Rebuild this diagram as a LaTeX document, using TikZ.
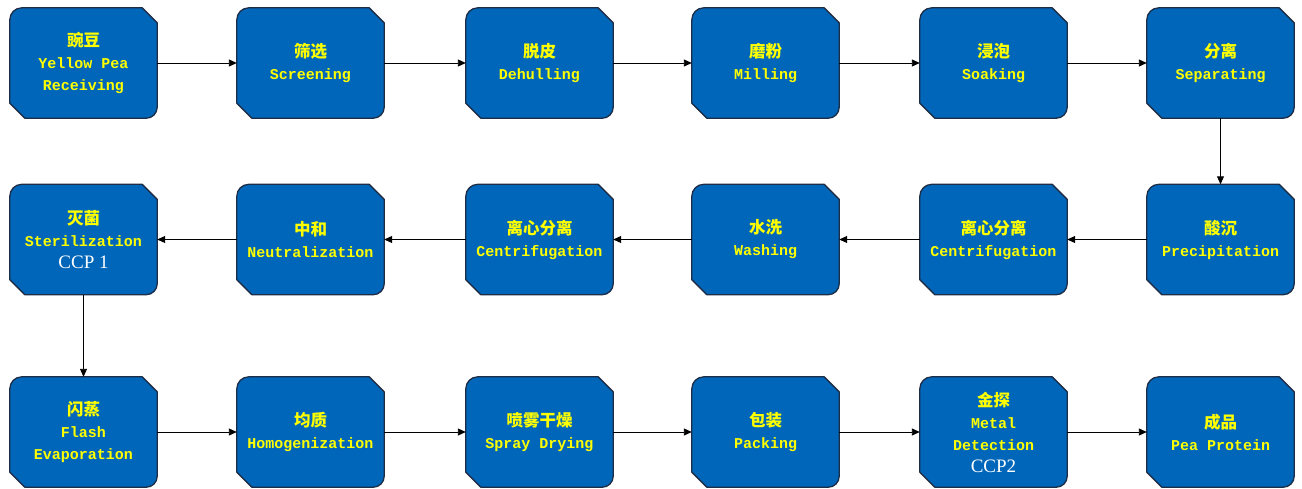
\documentclass[tikz,border=0pt]{standalone}
\usepackage{fontspec}
\setmainfont{Liberation Serif}
\newfontfamily\cjk{Noto Sans CJK SC}
\newfontfamily\mono{Liberation Mono}
\usetikzlibrary{arrows.meta}
\pgfdeclarelayer{background}
\pgfsetlayers{background,main}
\definecolor{boxfill}{RGB}{0,102,186}
\definecolor{boxline}{RGB}{30,45,70}
\definecolor{txtyellow}{RGB}{255,255,0}
\newcommand{\zh}[1]{{\cjk\bfseries\fontsize{16.5}{22}\selectfont #1}}
\newcommand{\ccp}[1]{{\rmfamily\mdseries\color{white}\fontsize{19}{23}\selectfont #1}}
\tikzset{
  proc/.style={rectangle, minimum width=147pt, minimum height=110pt, inner sep=0pt,
    align=center, text=txtyellow, font=\mono\bfseries\fontsize{15}{22}\selectfont},
  flow/.style={draw=black, line width=0.9pt, -{Triangle[length=8pt,width=7pt]}}
}
\begin{document}
\begin{tikzpicture}[x=1pt,y=1pt]
\useasboundingbox (0,0) rectangle (1302,-488);
% row 1
\node[proc] (a1) at (83.5,-63) {\zh{豌豆}\\Yellow Pea\\Receiving};
\node[proc] (a2) at (310.5,-63) {\zh{筛选}\\Screening};
\node[proc] (a3) at (539.5,-63) {\zh{脱皮}\\Dehulling};
\node[proc] (a4) at (765.5,-63) {\zh{磨粉}\\Milling};
\node[proc] (a5) at (993.5,-63) {\zh{浸泡}\\Soaking};
\node[proc] (a6) at (1220.5,-63) {\zh{分离}\\Separating};
% row 2
\node[proc] (b6) at (1220.5,-239.5) {\zh{酸沉}\\Precipitation};
\node[proc] (b5) at (993.5,-239.5) {\zh{离心分离}\\Centrifugation};
\node[proc] (b4) at (765.5,-239.5) {\zh{水洗}\\Washing};
\node[proc] (b3) at (539.5,-239.5) {\zh{离心分离}\\Centrifugation};
\node[proc] (b2) at (310.5,-239.5) {\zh{中和}\\Neutralization};
\node[proc] (b1) at (83.5,-239.5) {\zh{灭菌}\\Sterilization\\\ccp{CCP 1}};
% row 3
\node[proc] (c1) at (83.5,-432) {\zh{闪蒸}\\Flash\\Evaporation};
\node[proc] (c2) at (310.5,-432) {\zh{均质}\\Homogenization};
\node[proc] (c3) at (539.5,-432) {\zh{喷雾干燥}\\Spray Drying};
\node[proc] (c4) at (765.5,-432) {\zh{包装}\\Packing};
\node[proc] (c5) at (993.5,-432) {\zh{金探}\\Metal\\Detection\\\ccp{CCP2}};
\node[proc] (c6) at (1220.5,-432) {\zh{成品}\\Pea Protein};
% shapes
\begin{pgfonlayer}{background}
\foreach \n in {a1,a2,a3,a4,a5,a6,b1,b2,b3,b4,b5,b6,c1,c2,c3,c4,c5,c6}{
  \filldraw[fill=boxfill, draw=boxline, line width=1.3pt, line join=round]
    ([yshift=-12pt]\n.north west) arc[start angle=180,end angle=90,radius=12pt]
    -- ([xshift=-15pt]\n.north east) -- ([yshift=-15pt]\n.north east)
    -- ([yshift=11pt]\n.south east) arc[start angle=0,end angle=-90,radius=11pt]
    -- ([xshift=15pt]\n.south west) -- ([yshift=15pt]\n.south west) -- cycle;
}
\end{pgfonlayer}
% connectors
\draw[flow] (a1) -- (a2);
\draw[flow] (a2) -- (a3);
\draw[flow] (a3) -- (a4);
\draw[flow] (a4) -- (a5);
\draw[flow] (a5) -- (a6);
\draw[flow] (a6) -- (b6);
\draw[flow] (b6) -- (b5);
\draw[flow] (b5) -- (b4);
\draw[flow] (b4) -- (b3);
\draw[flow] (b3) -- (b2);
\draw[flow] (b2) -- (b1);
\draw[flow] (b1) -- (c1);
\draw[flow] (c1) -- (c2);
\draw[flow] (c2) -- (c3);
\draw[flow] (c3) -- (c4);
\draw[flow] (c4) -- (c5);
\draw[flow] (c5) -- (c6);
\end{tikzpicture}
\end{document}
